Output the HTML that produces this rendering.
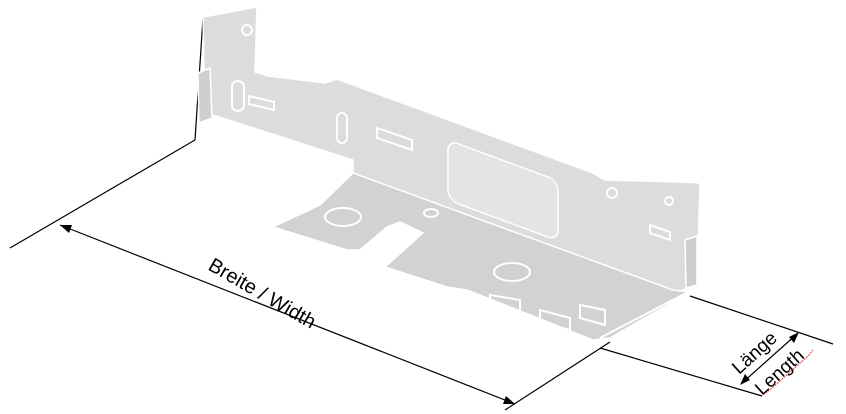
<!DOCTYPE html>
<html><head><meta charset="utf-8"><style>
html,body{margin:0;padding:0;background:#fff;}
svg{display:block}
</style></head><body>
<svg width="846" height="414" viewBox="0 0 846 414" xmlns="http://www.w3.org/2000/svg">
<g stroke="#000" stroke-width="1.2" fill="none">
<line x1="203" y1="18" x2="195" y2="140"/>
<line x1="195" y1="140" x2="10" y2="248"/>
<line x1="610" y1="342" x2="505" y2="410"/>
<line x1="60" y1="225" x2="515" y2="404"/>
<line x1="690" y1="296" x2="833" y2="344"/>
<line x1="600" y1="348" x2="762" y2="396"/>
<line x1="742" y1="383" x2="797" y2="334"/>
</g>
<g fill="#000">
<polygon points="60,225 72,225 69,233"/>
<polygon points="515,404 503,404 506,396"/>
<polygon points="740,385 745,374 750,380"/>
<polygon points="799,332 794,343 789,337"/>
</g>
<g stroke="#fff" stroke-width="1.5">
<polygon fill="#dcdcdc" points="203,17 257,7 255,72 268,76 325,83 337,79 593,173 605,180 680,182 700,183 697,285 677,292 353,173 353,160 213,115 205,118"/>
<polygon fill="#cfcfcf" points="198,73 210,68 212,118 199,123"/>
<polygon fill="#cfcfcf" points="685,240 697,236 697,285 686,288"/>
<polygon fill="#d2d2d2" points="353,173 673,290 690,292 610,338 593,340 505,305 467,290 447,287 385,267 423,233 400,222 387,227 360,250 347,250 273,227 320,205"/>
<rect x="0" y="0" width="110" height="60" rx="10" fill="#e4e4e4" transform="matrix(1,0.37,0,1,448,140)"/>
</g>
<g fill="none" stroke="#fff" stroke-width="2">
<ellipse cx="343" cy="217" rx="18" ry="9"/>
<ellipse cx="512" cy="272" rx="18" ry="9"/>
<ellipse cx="431" cy="213" rx="7" ry="4"/>
<rect x="232" y="81" width="12" height="30" rx="6"/>
<rect x="337" y="113" width="10" height="30" rx="5"/>
<polygon points="249,96 274,102 274,110 249,104"/>
<polygon points="377,128 412,140 412,150 377,138"/>
<polygon points="650,225 670,232 670,240 650,233"/>
<circle cx="247" cy="30" r="5"/>
<circle cx="612" cy="193" r="5"/>
<circle cx="669" cy="201" r="4"/>
<polygon points="490,295 520,300 520,312 490,305"/>
<polygon points="540,310 570,318 570,330 540,322"/>
<polygon points="580,305 605,310 605,325 580,318"/>
<line x1="280" y1="230" x2="345" y2="252"/>
<line x1="390" y1="270" x2="445" y2="290"/>
<line x1="600" y1="338" x2="688" y2="292"/>
</g>
<text x="0" y="0" font-family="'Liberation Sans',sans-serif" font-size="20" fill="#000" transform="translate(207,269) rotate(30)">Breite / Width</text>
<text x="0" y="0" font-family="'Liberation Sans',sans-serif" font-size="19" fill="#000" transform="translate(739,375) rotate(-42)">Länge</text>
<text x="0" y="0" font-family="'Liberation Sans',sans-serif" font-size="19" fill="#000" transform="translate(762,396) rotate(-42)">Length</text>
<polyline points="763,395 772,388 781,380 790,372 799,364 808,356 813,350" fill="none" stroke="#e33" stroke-width="1" stroke-dasharray="2,1"/>
</svg>
</body></html>
